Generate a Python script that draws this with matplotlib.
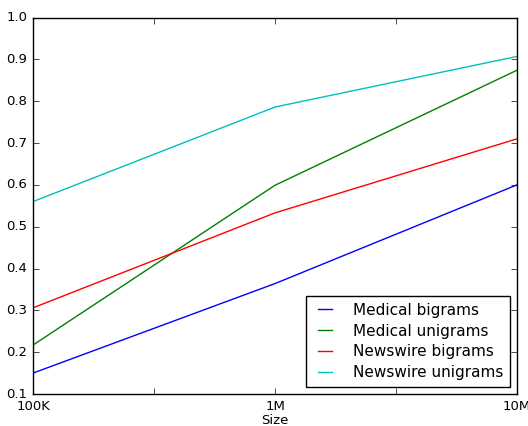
import matplotlib
matplotlib.use("Agg")
import matplotlib.pyplot as plt

plt.style.use("classic")

sizes = ["100K", "1M", "10M"]
size_pos = [0, 1, 2]  # log10 steps from 100K
tick_pos = [0, 0.5, 1, 1.5, 2]
tick_labels = ["100K", "", "1M", "", "10M"]

medical_bigrams = [0.150, 0.364, 0.600]
medical_unigrams = [0.217, 0.599, 0.874]
newswire_bigrams = [0.306, 0.533, 0.710]
newswire_unigrams = [0.560, 0.786, 0.907]

series = [
    ("Medical bigrams", medical_bigrams, "b"),
    ("Medical unigrams", medical_unigrams, "g"),
    ("Newswire bigrams", newswire_bigrams, "r"),
    ("Newswire unigrams", newswire_unigrams, "c"),
]

fig = plt.figure(figsize=(5.28, 4.26), dpi=100, facecolor="white")
ax = fig.add_axes([0.0625, 0.0751, 0.9167, 0.8838])

for name, vals, col in series:
    ax.plot(size_pos, vals, color=col, linewidth=1.0, label=name)

ax.set_xlim(0, 2)
ax.set_ylim(0.1, 1.0)
ax.set_xticks(tick_pos)
ax.set_xticklabels(tick_labels)
ax.set_yticks([0.1, 0.2, 0.3, 0.4, 0.5, 0.6, 0.7, 0.8, 0.9, 1.0])
ax.tick_params(labelsize=9.5)
ax.set_xlabel("Size", fontsize=9.5, labelpad=1)

leg = ax.legend(loc="lower right", fontsize=11, frameon=True,
                borderaxespad=0.45, handlelength=1.5, handletextpad=1.1,
                labelspacing=0.38, borderpad=0.45)
leg.get_frame().set_edgecolor("black")

fig.savefig("out.png", dpi=100, facecolor="white")
